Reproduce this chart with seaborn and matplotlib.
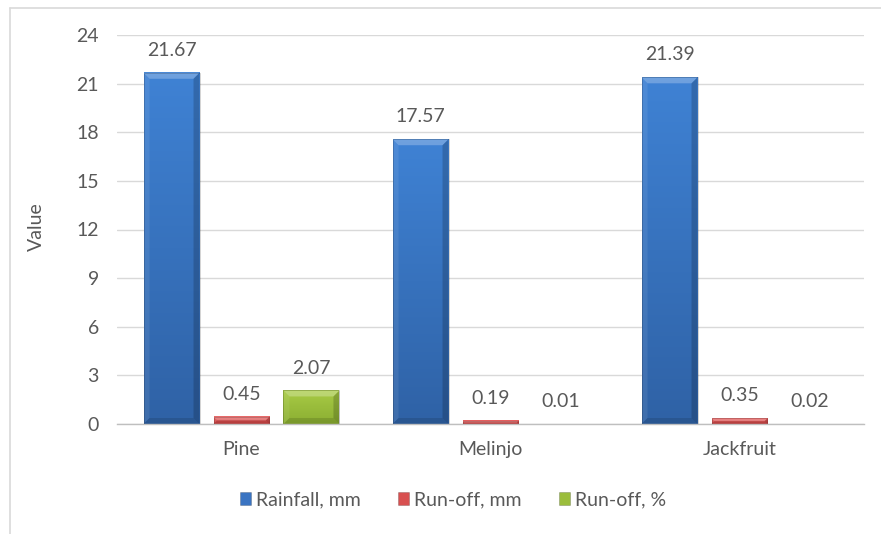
import numpy as np
import pandas as pd
import matplotlib
matplotlib.use("Agg")
import matplotlib.pyplot as plt
import seaborn as sns
from matplotlib.patches import Polygon, Patch
from matplotlib.lines import Line2D
from matplotlib.colors import LinearSegmentedColormap

# Measurements per site
sites = ["Pine", "Melinjo", "Jackfruit"]
rainfall_mm = [21.67, 17.57, 21.39]
runoff_mm = [0.45, 0.19, 0.35]
runoff_pct = [2.07, 0.01, 0.02]
series_names = ["Rainfall, mm", "Run-off, mm", "Run-off, %"]
y_ticks = [0, 3, 6, 9, 12, 15, 18, 21, 24]

series_values = [rainfall_mm, runoff_mm, runoff_pct]
df = pd.DataFrame({
    "Site": sites * 3,
    "Series": np.repeat(series_names, len(sites)),
    "Value": rainfall_mm + runoff_mm + runoff_pct,
})

# Gradient colours (top, bottom) for each series
grad_colors = {
    "Rainfall, mm": ("#3f82d4", "#2f62a6"),
    "Run-off, mm": ("#e86060", "#cc4242"),
    "Run-off, %": ("#a8cb45", "#8bae32"),
}
mid_colors = ["#3a74c2", "#d85050", "#9bbd3c"]

sns.set_theme(style="white")
plt.rcParams["font.family"] = ["Lato", "DejaVu Sans"]
text_color = "#595959"
fs = 14

W, H = 881, 534
fig = plt.figure(figsize=(W / 100, H / 100), dpi=100)
ax = fig.add_axes([117 / W, 1 - 424 / H, (864 - 117) / W, (424 - 35) / H])

sns.barplot(data=df, x="Site", y="Value", hue="Series", palette=mid_colors,
            width=0.843, gap=0.2, saturation=1, legend=False, ax=ax,
            linewidth=0, zorder=2)

ax.set_xlim(-0.5, 2.5)
ax.set_ylim(0, 24)
ax.set_yticks(y_ticks)
ax.set_xlabel("")
ax.set_ylabel("")
ax.yaxis.grid(True, color="#d9d9d9", lw=1)
ax.set_axisbelow(True)
for s in ["left", "right", "top"]:
    ax.spines[s].set_visible(False)
ax.spines["bottom"].set_color("#bfbfbf")
ax.spines["bottom"].set_linewidth(1)
ax.tick_params(axis="both", length=0, labelsize=fs, labelcolor=text_color)
ax.tick_params(axis="y", pad=13)
ax.tick_params(axis="x", pad=12)

# Bevelled bar faces and value labels
to_px = ax.transData
to_data = ax.transData.inverted()
for name, cont, vals in zip(series_names, ax.containers, series_values):
    top_c, bot_c = grad_colors[name]
    cmap = LinearSegmentedColormap.from_list(name, [bot_c, top_c])
    for bar, v in zip(cont, vals):
        x0, y0 = bar.get_x(), bar.get_y()
        w, h = bar.get_width(), bar.get_height()
        (px0, py0), (px1, py1) = to_px.transform([(x0, y0), (x0 + w, y0 + h)])
        if py1 - py0 >= 1.5:
            grad = np.linspace(1, 0, 64).reshape(-1, 1)
            ax.imshow(grad, extent=(x0, x0 + w, y0, y0 + h), aspect="auto",
                      cmap=cmap, vmin=0, vmax=1, zorder=2.1, interpolation="bilinear")
            d = min(6.0, (py1 - py0) / 2, (px1 - px0) / 2)
            facets = [
                ([(px0, py1), (px1, py1), (px1 - d, py1 - d), (px0 + d, py1 - d)], "white", 0.25),
                ([(px0, py0), (px0 + d, py0 + d), (px0 + d, py1 - d), (px0, py1)], "white", 0.08),
                ([(px1, py0), (px1, py1), (px1 - d, py1 - d), (px1 - d, py0 + d)], "black", 0.18),
                ([(px0, py0), (px1, py0), (px1 - d, py0 + d), (px0 + d, py0 + d)], "black", 0.12),
            ]
            for pts, col, a in facets:
                ax.add_patch(Polygon(to_data.transform(pts), closed=True,
                                     facecolor=col, alpha=a, lw=0, zorder=2.2))
            ax.add_patch(Polygon(to_data.transform([(px0, py0), (px1, py0), (px1, py1), (px0, py1)]),
                                 closed=True, fill=False, edgecolor="black", alpha=0.2,
                                 lw=0.6, zorder=2.3))
        else:
            bar.set_visible(False)
        ax.annotate(f"{v:.2f}", xy=(x0 + w / 2, v), xytext=(0, 10),
                    textcoords="offset points", ha="center", va="bottom",
                    fontsize=fs, color=text_color)

ax.set_xlim(-0.5, 2.5)
ax.set_ylim(0, 24)

fig.text(36 / W, 1 - 227 / H, "Value", rotation=90, ha="center", va="center",
         fontsize=fs, color=text_color)

handles = [Patch(facecolor=c, edgecolor="#00000040", lw=0.5) for c in mid_colors]
fig.legend(handles, series_names, loc="center", bbox_to_anchor=(453 / W, 1 - 500 / H),
           ncol=3, frameon=False, handlelength=0.6, handleheight=0.6,
           handletextpad=0.25, columnspacing=1.9, fontsize=fs, labelcolor=text_color)

# Chart area outline
fig.add_artist(Line2D([10 / W, 10 / W], [0, 1 - 8 / H], color="#d9d9d9", lw=1.2,
                      transform=fig.transFigure))
fig.add_artist(Line2D([10 / W, 1], [1 - 8 / H, 1 - 8 / H], color="#d9d9d9", lw=1.2,
                      transform=fig.transFigure))

fig.savefig("out.png", dpi=100, facecolor="white")
